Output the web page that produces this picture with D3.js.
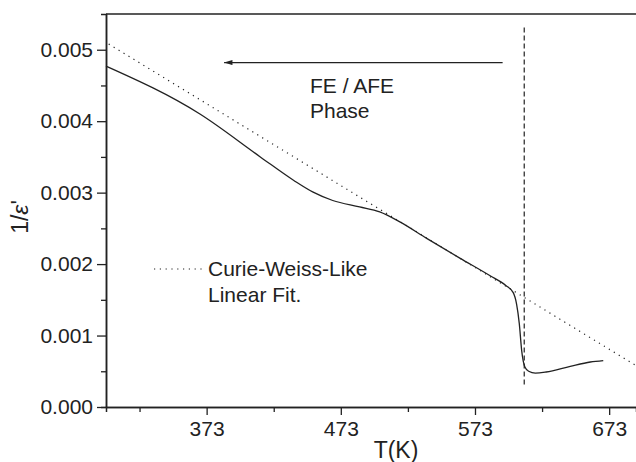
<!DOCTYPE html>
<html>
<head>
<meta charset="utf-8">
<script src="https://cdn.jsdelivr.net/npm/d3@7"></script>
<style>
  body { margin: 0; background: #fff; }
  text { font-family: "Liberation Sans", Arial, Helvetica, sans-serif; fill: #222; }
</style>
</head>
<body>
<div id="chart"></div>
<script>
// measured curve 1/eps' vs T
const tempK = [298, 368, 413, 438, 452, 467, 487, 502, 517, 537, 562, 584, 596, 601.5, 604, 606, 607.8, 610.2, 613, 618, 626, 644, 659, 668.6];
const invEps = [0.00477, 0.00410, 0.00350, 0.00317, 0.00301, 0.00289, 0.00280, 0.00273, 0.00259, 0.00236, 0.00208, 0.00184, 0.00170, 0.00160, 0.00144, 0.00117, 0.00079, 0.00056, 0.00050, 0.000475, 0.00049, 0.00057, 0.00063, 0.00065];

// Curie-Weiss-like linear fit (end points)
const fitT = [300, 693];
const fitY = [0.00508, 0.00058];

// transition marker
const tcT = 609.7;
const tcY = [0.00031, 0.00531];

// arrow (FE / AFE phase)
const arrowT = [593.6, 386];
const arrowY = 0.00482;

const xTicks = [373, 473, 573, 673];
const xMinor = [323, 423, 523, 623];
const yTicks = [0, 0.001, 0.002, 0.003, 0.004, 0.005];
const yMinor = [0.0005, 0.0015, 0.0025, 0.0035, 0.0045];

const width = 636, height = 462;
const mLeft = 106, mRight = 636, mTop = 14, mBottom = 407;

const svg = d3.select('#chart').append('svg')
    .attr('width', width)
    .attr('height', height);

const x = d3.scaleLinear().domain([298, 693]).range([mLeft, mRight]);
const y = d3.scaleLinear().domain([0, 0.0055]).range([mBottom, mTop]);

const ink = '#222';

// top frame line
svg.append('line')
    .attr('x1', mLeft).attr('x2', mRight)
    .attr('y1', mTop).attr('y2', mTop)
    .attr('stroke', ink).attr('stroke-width', 1.5);

// axes
function styleAxis(g) {
    g.select('.domain').attr('stroke', ink).attr('stroke-width', 1.5);
    g.selectAll('.tick line').attr('stroke', ink).attr('stroke-width', 1.3);
    g.selectAll('.tick text').style('font-size', '21px').attr('fill', ink);
}

svg.append('g')
    .attr('transform', `translate(${mLeft},0)`)
    .call(d3.axisLeft(y).tickValues(yMinor).tickSize(5).tickFormat(''))
    .call(styleAxis);

svg.append('g')
    .attr('transform', `translate(${mLeft},0)`)
    .call(d3.axisLeft(y).tickValues(yTicks).tickSize(9).tickSizeOuter(0).tickPadding(4).tickFormat(d3.format('.3f')))
    .call(styleAxis);

svg.append('g')
    .attr('transform', `translate(0,${mBottom})`)
    .call(d3.axisBottom(x).tickValues(xMinor).tickSize(5).tickFormat(''))
    .call(styleAxis);

svg.append('g')
    .attr('transform', `translate(0,${mBottom})`)
    .call(d3.axisBottom(x).tickValues(xTicks).tickSize(8).tickSizeOuter(0).tickPadding(6).tickFormat(d3.format('d')))
    .call(styleAxis);

// fit line (dotted)
svg.append('line')
    .attr('x1', x(fitT[0])).attr('y1', y(fitY[0]))
    .attr('x2', x(fitT[1])).attr('y2', y(fitY[1]))
    .attr('stroke', ink).attr('stroke-width', 1.2)
    .attr('stroke-dasharray', '1.2,4.6');

// measured curve
const line = d3.line()
    .x((d, i) => x(tempK[i]))
    .y((d) => y(d))
    .curve(d3.curveMonotoneX);

svg.append('path')
    .attr('d', line(invEps))
    .attr('fill', 'none')
    .attr('stroke', ink)
    .attr('stroke-width', 1.3);

// vertical dashed line at transition
svg.append('line')
    .attr('x1', x(tcT)).attr('x2', x(tcT))
    .attr('y1', y(tcY[1])).attr('y2', y(tcY[0]))
    .attr('stroke', ink).attr('stroke-width', 1.2)
    .attr('stroke-dasharray', '5,3');

// arrow
svg.append('defs').append('marker')
    .attr('id', 'head')
    .attr('viewBox', '0 0 10 6')
    .attr('refX', 10).attr('refY', 3)
    .attr('markerWidth', 10).attr('markerHeight', 5)
    .attr('markerUnits', 'userSpaceOnUse')
    .attr('orient', 'auto')
    .append('path')
    .attr('d', 'M0,0 L10,3 L0,6 Z')
    .attr('fill', ink);

svg.append('line')
    .attr('x1', x(arrowT[0])).attr('x2', x(arrowT[1]))
    .attr('y1', y(arrowY)).attr('y2', y(arrowY))
    .attr('stroke', ink).attr('stroke-width', 1.2)
    .attr('marker-end', 'url(#head)');

// annotations
svg.append('text').attr('x', 310).attr('y', 93).style('font-size', '21px').text('FE / AFE');
svg.append('text').attr('x', 310).attr('y', 118).style('font-size', '21px').text('Phase');

// legend
svg.append('line')
    .attr('x1', 154).attr('x2', 202)
    .attr('y1', 269).attr('y2', 269)
    .attr('stroke', ink).attr('stroke-width', 1.2)
    .attr('stroke-dasharray', '1.2,4.6');
svg.append('text').attr('x', 208).attr('y', 276).style('font-size', '21px').text('Curie-Weiss-Like');
svg.append('text').attr('x', 208).attr('y', 302).style('font-size', '21px').text('Linear Fit.');

// axis titles
svg.append('text')
    .attr('x', 396).attr('y', 458)
    .attr('text-anchor', 'middle')
    .style('font-size', '23px')
    .text('T(K)');

const yl = svg.append('text')
    .attr('transform', 'translate(28,217) rotate(-90)')
    .attr('text-anchor', 'middle')
    .style('font-size', '23px');
yl.append('tspan').text('1/');
yl.append('tspan').style('font-style', 'italic').text('ε');
yl.append('tspan').text("'");
</script>
</body>
</html>
